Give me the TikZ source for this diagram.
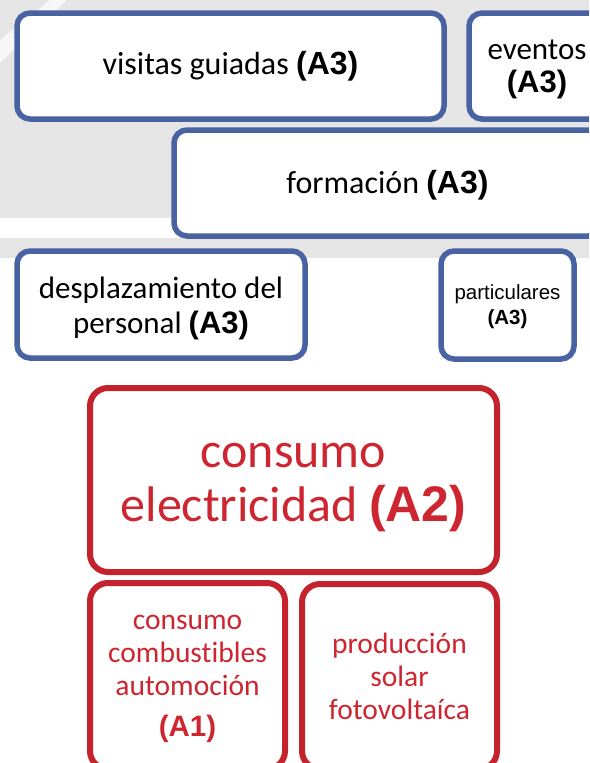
\documentclass[tikz,border=0pt]{standalone}
\usepackage{fontspec}
\setmainfont{Carlito}[Ligatures=NoCommon]
\newfontfamily\arialfont{Liberation Sans}
\definecolor{boxblue}{RGB}{72,98,162}
\definecolor{boxred}{RGB}{196,35,45}
\definecolor{txtred}{RGB}{205,38,48}
\definecolor{bggray}{RGB}{229,229,229}
\newcommand{\aref}[1]{{\arialfont\bfseries #1}}
\newcommand{\setfs}[2]{\fontsize{#1}{#2}\selectfont}
% lines of a tile, lowered a little
\newcommand{\tilelines}[2]{\raisebox{#1}[\height][\depth]{\begin{tabular}{@{}c@{}}#2\end{tabular}}}
\tikzset{
  tilebase/.style={draw, fill=white, align=center, inner sep=0pt},
  bluetile/.style={tilebase, draw=boxblue, line width=5.5pt, rounded corners=13pt},
  redtile/.style={tilebase, draw=boxred, line width=6pt, rounded corners=18pt, text=txtred},
}
\begin{document}
\begin{tikzpicture}[x=1pt,y=-1pt]
  \def\W{589}
  \def\H{763}
  \useasboundingbox (0,0) rectangle (\W,\H);
  \clip (0,0) rectangle (\W,\H);

  \fill[bggray] (0,0) rectangle (\W,218);
  \fill[bggray] (0,238) rectangle (\W,258);
  \fill[white,opacity=0.7] (50,0) -- (67,0) -- (0,63) -- (0,40) -- cycle;

  \node[bluetile, minimum width=427pt, minimum height=106pt, font=\setfs{32}{36}] (visitas) at (230.5,66)
    {visitas guiadas \aref{(A3)}};
  \node[bluetile, minimum width=136pt, minimum height=106pt, font=\setfs{31}{33}] (eventos) at (537,66)
    {\tilelines{-3pt}{eventos\\\aref{(A3)}}};
  \node[bluetile, minimum width=427pt, minimum height=106pt, font=\setfs{32}{36}] (formacion) at (387.5,183)
    {\tilelines{-3pt}{formación \aref{(A3)}}};
  \node[bluetile, minimum width=288pt, minimum height=107pt, font=\setfs{31}{35}] (desplaz) at (161,304.5)
    {\tilelines{-4pt}{desplazamiento del\\personal \aref{(A3)}}};
  \node[bluetile, minimum width=133pt, minimum height=108pt, font=\setfs{20.5}{25}\arialfont] (particulares) at (507.5,305)
    {\tilelines{-2pt}{particulares\\\aref{(A3)}}};

  \node[redtile, minimum width=407pt, minimum height=184pt, font=\setfs{50}{54}] (electricidad) at (293.5,480)
    {\tilelines{-4pt}{consumo\\electricidad \aref{(A2)}}};
  \node[redtile, minimum width=195pt, minimum height=186pt, font=\setfs{29.5}{33}] (combustibles) at (187.5,676)
    {\tilelines{0pt}{consumo\\combustibles\\automoción\\[8pt]\aref{(A1)}}};
  \node[redtile, minimum width=195pt, minimum height=185pt, font=\setfs{29.5}{33}] (solar) at (399.5,676.5)
    {producción\\solar\\fotovoltaíca};
\end{tikzpicture}
\end{document}
